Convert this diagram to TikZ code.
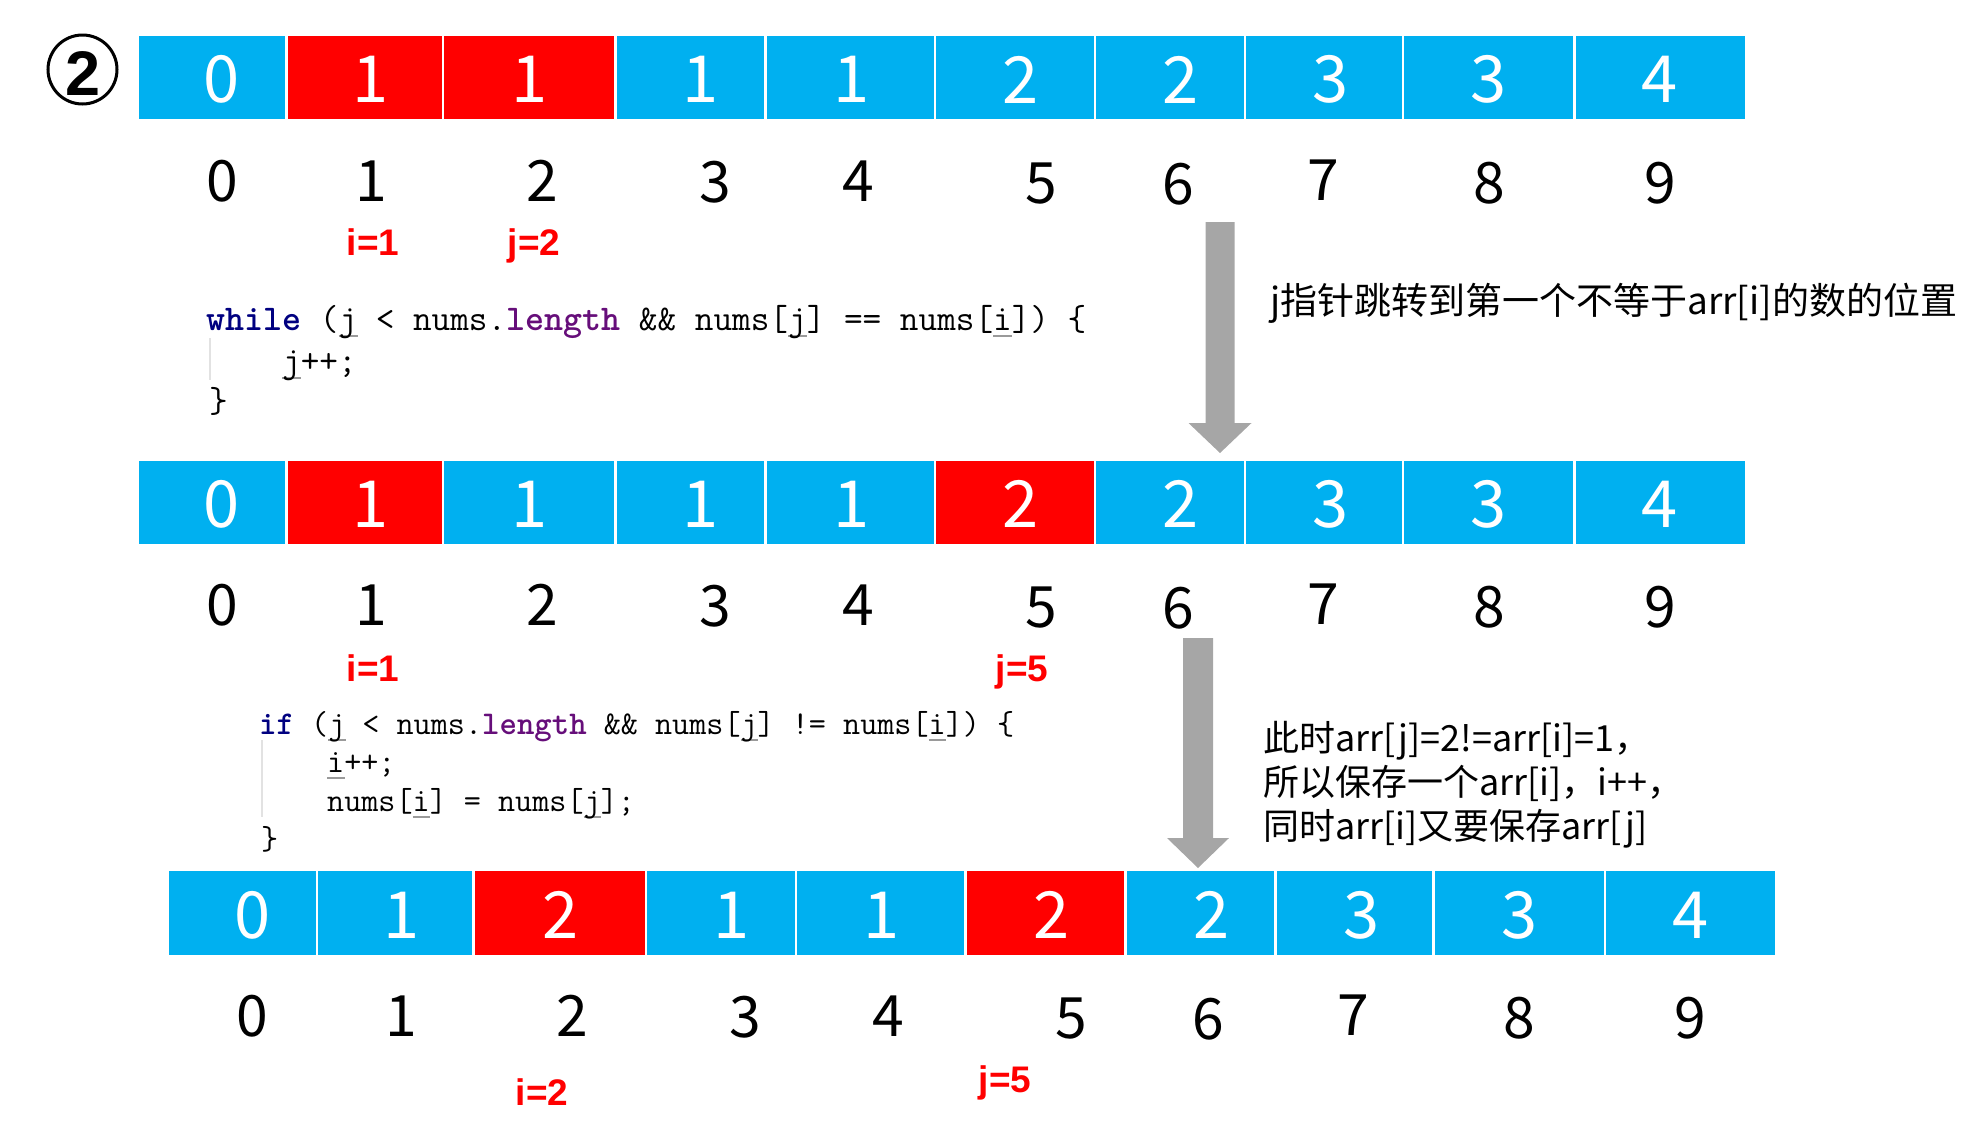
\documentclass[tikz,border=0pt]{standalone}
\usepackage{fontspec}
\setmainfont{Noto Sans CJK SC}
\newfontfamily\cjk{Noto Sans CJK SC}
\newfontfamily\labfont{Liberation Sans}
\definecolor{cblue}{HTML}{00B0F0}
\definecolor{cred}{HTML}{FF0000}
\definecolor{agray}{HTML}{A6A6A6}
\definecolor{kwnavy}{HTML}{000080}
\definecolor{kwpurple}{HTML}{660E7A}
\definecolor{ulgray}{HTML}{9A9A9A}
\definecolor{guidegray}{HTML}{E2E2E2}
\newcommand\vu[1]{\leavevmode\rlap{\textcolor{ulgray}{\rule[-0.2em]{0.525em}{0.06em}}}#1}
\begin{document}
\begin{tikzpicture}[x=1pt,y=-1pt,
  cellbox/.style={draw=white, line width=2.5pt},
  celldig/.style={text=white, inner sep=0pt, font=\fontsize{65}{70}\selectfont},
  idx/.style={inner sep=0pt, font=\fontsize{57}{62}\selectfont},
  ptr/.style={text=cred, inner sep=0pt, anchor=base, font=\labfont\bfseries\fontsize{37}{40}\selectfont},
  code/.style={inner sep=0pt, anchor=base west, font=\ttfamily\fontsize{36.2}{40}\selectfont},
  codeb/.style={inner sep=0pt, anchor=base west, font=\ttfamily\fontsize{33.2}{38}\selectfont},
  note/.style={inner sep=0pt, anchor=base west, font=\cjk\fontsize{37}{44}\selectfont},
  guide/.style={draw=guidegray, line width=1.5pt},
  blockarrow/.style={fill=agray}
]
\useasboundingbox (0,0) rectangle (1978,1136);

% circled number
\node[circle, draw, line width=3pt, minimum size=69pt, inner sep=0pt] (circ) at (82.5,69.5) {};
\node[inner sep=0pt, font=\labfont\bfseries\fontsize{63}{70}\selectfont] (circnum) at (83,73.5) {2};

% row 1
\foreach \xa/\xb/\col/\v/\dx [count=\k from 0] in {137.5/286.4/cblue/0/222, 286.4/442.8/cred/1/371, 442.8/615.6/cred/1/530, 615.6/765.7/cblue/1/701, 765.7/934.8/cblue/1/851.5, 934.8/1095/cblue/2/1020.6, 1095/1245/cblue/2/1180.8, 1245/1402.8/cblue/3/1331, 1402.8/1574.4/cblue/3/1488.6, 1574.4/1746/cblue/4/1660}{
  \path[cellbox, fill=\col] (\xa,35) rectangle (\xb,120);
  \node[celldig] (ra\k) at (\dx,79.5) {\v};
}
\foreach \x/\dy [count=\k from 0] in {222/0, 371/0, 542/0, 715/1, 858/0, 1041/3, 1178/3, 1323/-1, 1489/2, 1660/2}{
  \node[idx] (ia\k) at (\x,{181+\dy}) {\k};
}
\node[ptr] (pia) at (373,255) {i=1};
\node[ptr] (pja) at (534,255) {j=2};

% code block 1
\draw[guide] (210,338) -- (210,380);
\node[code] (c1a) at (206,330) {\textcolor{kwnavy}{\bfseries while} (\vu{j} < nums.\textcolor{kwpurple}{\bfseries length} \&\& nums[\vu{j}] == nums[\vu{i}]) \{};
\node[code] (c1b) at (282,372) {\vu{j}++;};
\node[code] (c1c) at (209,412) {\}};

% arrow 1 and note
\coordinate (a1s) at (1220,222);
\coordinate (a1e) at (1220,453);
\fill[blockarrow] ([xshift=-14.5pt]a1s) -- ([xshift=14.5pt]a1s) -- ([xshift=14.5pt,yshift=30pt]a1e) -- ([xshift=31.5pt,yshift=30pt]a1e) -- (a1e) -- ([xshift=-31.5pt,yshift=30pt]a1e) -- ([xshift=-14.5pt,yshift=30pt]a1e) -- cycle;
\node[note] (n1) at (1270,314) {j指针跳转到第一个不等于arr[i]的数的位置};

% row 2
\foreach \xa/\xb/\col/\v/\dx [count=\k from 0] in {137.5/286.4/cblue/0/222, 286.4/442.8/cred/1/371, 442.8/615.6/cblue/1/530, 615.6/765.7/cblue/1/701, 765.7/934.8/cblue/1/851.5, 934.8/1095/cred/2/1020.6, 1095/1245/cblue/2/1180.8, 1245/1402.8/cblue/3/1331, 1402.8/1574.4/cblue/3/1488.6, 1574.4/1746/cblue/4/1660}{
  \path[cellbox, fill=\col] (\xa,460) rectangle (\xb,545);
  \node[celldig] (rb\k) at (\dx,504) {\v};
}
\foreach \x/\dy [count=\k from 0] in {222/0, 371/0, 542/0, 715/1, 858/0, 1041/3, 1178/3, 1323/-1, 1489/2, 1660/2}{
  \node[idx] (ib\k) at (\x,{605+\dy}) {\k};
}
\node[ptr] (pib) at (373,681) {i=1};
\node[ptr] (pjb) at (1022,681) {j=5};

% code block 2
\draw[guide] (262,740) -- (262,817);
\node[codeb] (c2a) at (259,734) {\textcolor{kwnavy}{\bfseries if} (\vu{j} < nums.\textcolor{kwpurple}{\bfseries length} \&\& nums[\vu{j}] != nums[\vu{i}]) \{};
\node[codeb] (c2b) at (327,772.5) {\vu{i}++;};
\node[codeb] (c2c) at (327,811) {nums[\vu{i}] = nums[\vu{j}];};
\node[codeb] (c2d) at (261,849.5) {\}};

% arrow 2 and note
\coordinate (a2s) at (1198,638);
\coordinate (a2e) at (1198,868);
\fill[blockarrow] ([xshift=-15pt]a2s) -- ([xshift=15pt]a2s) -- ([xshift=15pt,yshift=30pt]a2e) -- ([xshift=31pt,yshift=30pt]a2e) -- (a2e) -- ([xshift=-31pt,yshift=30pt]a2e) -- ([xshift=-15pt,yshift=30pt]a2e) -- cycle;
\node[note, font=\cjk\fontsize{36}{44}\selectfont] (n2a) at (1263,751) {此时arr[j]=2!=arr[i]=1，};
\node[note, font=\cjk\fontsize{36}{44}\selectfont] (n2b) at (1263,795) {所以保存一个arr[i]，i++，};
\node[note, font=\cjk\fontsize{36}{44}\selectfont] (n2c) at (1263,839) {同时arr[i]又要保存arr[j]};

% row 3
\begin{scope}[xshift=30.5pt]
\foreach \xa/\xb/\col/\v/\dx [count=\k from 0] in {137.5/286.4/cblue/0/222, 286.4/442.8/cblue/1/371, 442.8/615.6/cred/2/530, 615.6/765.7/cblue/1/701, 765.7/934.8/cblue/1/851.5, 934.8/1095/cred/2/1020.6, 1095/1245/cblue/2/1180.8, 1245/1402.8/cblue/3/1331, 1402.8/1574.4/cblue/3/1488.6, 1574.4/1746/cblue/4/1660}{
  \path[cellbox, fill=\col] (\xa,870) rectangle (\xb,956);
  \node[celldig] (rc\k) at (\dx,915) {\v};
}
\foreach \x/\dy [count=\k from 0] in {222/0, 371/0, 542/0, 715/1, 858/0, 1041/3, 1178/3, 1323/-1, 1489/2, 1660/2}{
  \node[idx] (ic\k) at (\x,{1016+\dy}) {\k};
}
\end{scope}
\node[ptr] (pic) at (542,1105) {i=2};
\node[ptr] (pjc) at (1005,1092) {j=5};
\end{tikzpicture}
\end{document}
